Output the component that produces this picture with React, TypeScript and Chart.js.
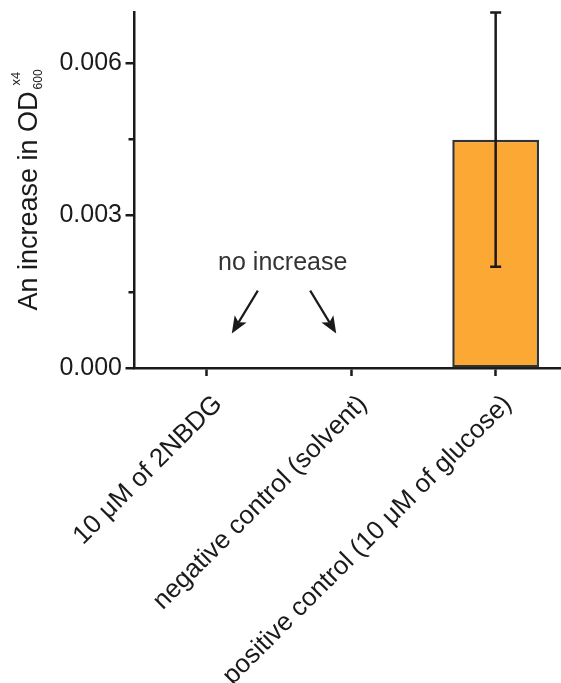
import React, { useEffect, useRef } from "react";
import { Chart, registerables } from "chart.js";

Chart.register(...registerables);

const categories = [
  "10 \u03bcM of 2NBDG",
  "negative control (solvent)",
  "positive control (10 \u03bcM of glucose)",
];
const means = [0, 0, 0.00449];
const errors = [0, 0, 0.0025];
const yTicks = [0, 0.0015, 0.003, 0.0045, 0.006];
const yMajor = [0, 0.003, 0.006];
const annotationText = "no increase";
// arrows in data coordinates: [xIndexStart, yStart, xIndexTip, yTip]
const arrows = [
  [0.356, 0.00152, 0.176, 0.00068],
  [0.718, 0.00152, 0.898, 0.00068],
];
const textAnchor = [0.528, 0.00192];

const FONT = "'Liberation Sans', Arial, Helvetica, sans-serif";
const INK = "#1a1a1a";

const isMajor = (v: number) => yMajor.some((m) => Math.abs(m - v) < 1e-9);

const decorPlugin = {
  id: "decor",
  afterDatasetsDraw(chart: any) {
    const ctx = chart.ctx;
    const ys = chart.scales.y;
    const meta = chart.getDatasetMeta(0);
    ctx.save();
    ctx.strokeStyle = INK;
    ctx.lineWidth = 2.5;
    means.forEach((m, i) => {
      const e = errors[i];
      if (!e) return;
      const x = meta.data[i].x;
      const yt = ys.getPixelForValue(m + e);
      const yb = ys.getPixelForValue(m - e);
      ctx.beginPath();
      ctx.moveTo(x, yt);
      ctx.lineTo(x, yb);
      ctx.moveTo(x - 5.5, yt);
      ctx.lineTo(x + 5.5, yt);
      ctx.moveTo(x - 5.5, yb);
      ctx.lineTo(x + 5.5, yb);
      ctx.stroke();
    });
    ctx.restore();
  },
  afterDraw(chart: any) {
    const ctx = chart.ctx;
    const xs = chart.scales.x;
    const ys = chart.scales.y;
    const area = chart.chartArea;
    ctx.save();
    // y ticks (major long, minor short)
    ctx.strokeStyle = INK;
    ctx.lineWidth = 2.5;
    yTicks.forEach((v) => {
      const y = Math.round(ys.getPixelForValue(v)) + 0.25;
      const len = isMajor(v) ? 8.5 : 5.5;
      ctx.beginPath();
      ctx.moveTo(area.left, y);
      ctx.lineTo(area.left - len, y);
      ctx.stroke();
    });
    // annotation text
    ctx.fillStyle = "#333";
    ctx.font = `25px ${FONT}`;
    ctx.textAlign = "center";
    ctx.textBaseline = "alphabetic";
    ctx.fillText(
      annotationText,
      xs.getPixelForValue(textAnchor[0]),
      ys.getPixelForValue(textAnchor[1])
    );
    // arrows
    arrows.forEach(([x0, y0, x1, y1]) => {
      const px0 = xs.getPixelForValue(x0);
      const py0 = ys.getPixelForValue(y0);
      const px1 = xs.getPixelForValue(x1);
      const py1 = ys.getPixelForValue(y1);
      const ang = Math.atan2(py1 - py0, px1 - px0);
      const headLen = 17;
      const headW = 7;
      const bx = px1 - headLen * Math.cos(ang);
      const by = py1 - headLen * Math.sin(ang);
      ctx.strokeStyle = INK;
      ctx.fillStyle = INK;
      ctx.lineWidth = 2.2;
      ctx.beginPath();
      ctx.moveTo(px0, py0);
      ctx.lineTo(bx + 4 * Math.cos(ang), by + 4 * Math.sin(ang));
      ctx.stroke();
      ctx.beginPath();
      ctx.moveTo(px1, py1);
      ctx.lineTo(bx - headW * Math.sin(ang), by + headW * Math.cos(ang));
      ctx.lineTo(bx + 4 * Math.cos(ang), by + 4 * Math.sin(ang));
      ctx.lineTo(bx + headW * Math.sin(ang), by - headW * Math.cos(ang));
      ctx.closePath();
      ctx.fill();
    });
    // y-axis title with subscript / superscript
    const main = "An increase in OD";
    const sub = "600";
    const sup = "x4";
    ctx.fillStyle = INK;
    ctx.font = `27px ${FONT}`;
    const wMain = ctx.measureText(main).width;
    ctx.font = `12px ${FONT}`;
    const wSub = ctx.measureText(sub).width;
    const total = wMain + 2 + wSub;
    const cy = (area.top + area.bottom) / 2;
    const baseX = 37;
    ctx.translate(baseX, cy + total / 2);
    ctx.rotate(-Math.PI / 2);
    ctx.textAlign = "left";
    ctx.textBaseline = "alphabetic";
    ctx.font = `27px ${FONT}`;
    ctx.fillText(main, 0, 0);
    ctx.font = `12px ${FONT}`;
    ctx.fillText(sub, wMain + 2, 5);
    ctx.font = `13px ${FONT}`;
    ctx.fillText(sup, wMain + 6, -17);
    ctx.restore();
  },
};

export default function App() {
  const canvasRef = useRef<HTMLCanvasElement | null>(null);

  useEffect(() => {
    const canvas = canvasRef.current;
    if (!canvas) return;
    const chart = new Chart(canvas, {
      type: "bar",
      data: {
        labels: categories,
        datasets: [
          {
            data: means,
            backgroundColor: "#FCA834",
            borderColor: "#333333",
            borderWidth: 2.5,
            borderSkipped: false,
            barPercentage: 0.6,
            categoryPercentage: 1.0,
          },
        ],
      },
      options: {
        responsive: false,
        animation: false,
        devicePixelRatio: 1,
        layout: { padding: { top: 12, left: 0, right: 0, bottom: 0 } },
        plugins: {
          legend: { display: false },
          tooltip: { enabled: false },
        },
        scales: {
          x: {
            offset: true,
            grid: {
              display: true,
              drawOnChartArea: false,
              drawTicks: true,
              tickLength: 8,
              tickWidth: 2.5,
              tickColor: INK,
              offset: false,
            },
            border: { display: true, color: INK, width: 2.5 },
            ticks: {
              autoSkip: false,
              maxRotation: 45,
              minRotation: 45,
              padding: 13,
              labelOffset: 12,
              color: INK,
              font: { family: FONT, size: 26 },
            },
            afterFit: (scale: any) => {
              scale.height = 683 - 368;
              scale.paddingLeft = 0;
              scale.paddingRight = 0;
            },
          },
          y: {
            min: 0,
            max: 0.007,
            grid: {
              display: true,
              drawOnChartArea: false,
              drawTicks: false,
            },
            border: { display: true, color: INK, width: 2.5 },
            afterBuildTicks: (scale: any) => {
              scale.ticks = yTicks.map((v) => ({ value: v }));
            },
            ticks: {
              padding: 12,
              color: INK,
              font: { family: FONT, size: 25 },
              callback: (v: any) => (isMajor(Number(v)) ? Number(v).toFixed(3) : ""),
            },
            afterFit: (scale: any) => {
              scale.width = 134;
              scale.paddingTop = 0;
              scale.paddingBottom = 0;
            },
          },
        },
      },
      plugins: [decorPlugin],
    });
    return () => chart.destroy();
  }, []);

  return (
    <div
      style={{
        position: "fixed",
        left: 0,
        top: 0,
        width: 561,
        height: 683,
        overflow: "hidden",
        background: "#fff",
      }}
    >
      <canvas ref={canvasRef} width={568} height={683} style={{ display: "block" }} />
    </div>
  );
}
